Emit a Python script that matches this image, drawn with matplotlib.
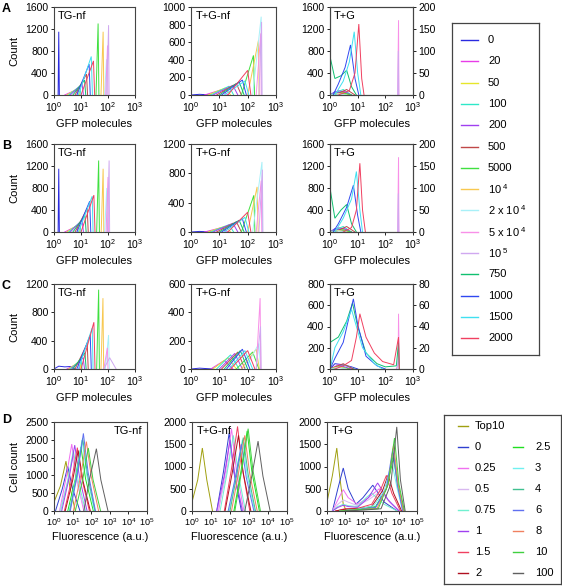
import matplotlib
matplotlib.use("Agg")
import matplotlib.pyplot as plt
from matplotlib.lines import Line2D

plt.rcParams['font.family'] = ['Liberation Sans', 'DejaVu Sans']
plt.rcParams['mathtext.fontset'] = 'custom'
plt.rcParams['mathtext.rm'] = 'Liberation Sans'
plt.rcParams['mathtext.it'] = 'Liberation Sans:italic'
plt.rcParams['mathtext.bf'] = 'Liberation Sans:bold'

# ---------------- series (A-C) ----------------
SERIES_ABC = ['0', '20', '50', '100', '200', '500', '5000', r'10$^{\ 4}$',
              r'2 x 10$^{\ 4}$', r'5 x 10$^{\ 4}$', r'10$^{\ 5}$', '750', '1000', '1500', '2000']
COLORS_ABC = ['#2a2ae0', '#e83ce8', '#e6e62a', '#2ee8c8', '#a040f0', '#c04848', '#40e040',
              '#f8c850', '#a8f0f8', '#f890e8', '#d0a8f0', '#10c070', '#3048f0', '#40e0f0', '#f04060']

# ---------------- series (D) ----------------
SERIES_D = ['Top10', '0', '0.25', '0.5', '0.75', '1', '1.5', '2', '2.5', '3', '4', '6', '8', '10', '100']
COLORS_D = ['#a0a010', '#3040d0', '#f070f0', '#d8b8f0', '#70f0d0', '#a040f0', '#f04060', '#b01020',
            '#20e020', '#70f0f0', '#40c090', '#6070f0', '#f08060', '#40d040', '#606060']

# ---------------- Row A ----------------
A1_X = [[1.42, 1.5, 1.58], [2.5, 7, 7.8], [3, 8, 8.8], [3.5, 9, 10], [4, 11, 12.3], [6, 16, 17.5],
        [36, 43, 46], [55, 66, 70], [75, 88, 92], [82, 96, 100], [90, 105, 110],
        [5, 13.5, 15], [7, 20, 22], [8, 24, 26.5], [10, 29, 32]]
A1_Y = [[0, 1150, 0], [0, 100, 0], [0, 130, 0], [0, 160, 0], [0, 200, 0], [0, 380, 0],
        [0, 1300, 0], [0, 1150, 0], [0, 650, 0], [0, 900, 0], [0, 1270, 0],
        [0, 270, 0], [0, 560, 0], [0, 700, 0], [0, 620, 0]]

A2_X = [[1, 2, 5], [3, 12, 20], [4, 16, 25], [5, 22, 32], [6, 30, 45], [8, 40, 60],
        [60, 160, 175], [100, 240, 255], [150, 300, 312], [200, 290, 300], [250, 310, 322],
        [10, 50, 75], [12, 65, 90], [15, 80, 110], [20, 100, 130]]
A2_Y = [[0, 8, 0], [0, 60, 0], [0, 80, 0], [0, 100, 0], [0, 110, 0], [0, 130, 0],
        [0, 450, 0], [0, 620, 0], [0, 890, 0], [0, 700, 0], [0, 830, 0],
        [0, 150, 0], [0, 170, 0], [0, 160, 0], [0, 280, 0]]

A3_X = [[1, 1.5, 3, 5], [1, 2, 4, 6], [1, 2.5, 5], [1, 3, 6], [1, 3, 6], [1.5, 4, 8],
        [1, 3, 6], [1, 2, 4], [1, 2, 4], [280, 300, 310], [280, 295, 305],
        [1, 1, 1.5, 2.5, 4, 6, 9], [1.3, 2, 3.5, 5.5, 8, 11], [1.5, 3, 5, 7.5, 10, 13],
        [2, 5, 8, 11, 14, 17]]
A3_Y = [[0, 60, 30, 0], [0, 80, 40, 0], [0, 50, 0], [0, 100, 0], [0, 70, 0], [0, 100, 0],
        [0, 40, 0], [0, 30, 0], [0, 20, 0], [0, 1360, 0], [0, 800, 0],
        [0, 700, 300, 350, 450, 150, 0], [0, 200, 500, 910, 300, 0], [0, 250, 600, 1150, 400, 0],
        [0, 80, 400, 1290, 300, 0]]

# ---------------- Row B ----------------
B1_X = [[1.42, 1.5, 1.58], [2.5, 7, 7.8], [3, 8, 8.8], [3.5, 9, 10], [4, 11, 12.3], [6, 17, 18.5],
        [38, 45, 48], [56, 66, 70], [75, 90, 94], [85, 100, 104], [95, 110, 115],
        [5, 14, 15.5], [7, 21, 23], [8, 26, 28], [10, 30, 33]]
B1_Y = [[0, 1150, 0], [0, 110, 0], [0, 140, 0], [0, 170, 0], [0, 220, 0], [0, 430, 0],
        [0, 1300, 0], [0, 1150, 0], [0, 800, 0], [0, 1000, 0], [0, 1300, 0],
        [0, 300, 0], [0, 560, 0], [0, 650, 0], [0, 670, 0]]

B2_X = [[1, 2, 5], [3, 12, 20], [4, 16, 25], [5, 22, 32], [6, 30, 45], [8, 40, 60],
        [60, 165, 180], [100, 215, 235], [150, 320, 335], [200, 300, 315], [250, 330, 345],
        [10, 50, 75], [12, 65, 90], [15, 80, 110], [20, 100, 130]]
B2_Y = [[0, 8, 0], [0, 60, 0], [0, 80, 0], [0, 100, 0], [0, 120, 0], [0, 140, 0],
        [0, 500, 0], [0, 615, 0], [0, 955, 0], [0, 700, 0], [0, 850, 0],
        [0, 160, 0], [0, 180, 0], [0, 200, 0], [0, 270, 0]]

B3_X = [[1, 1.5, 3, 5], [1, 2, 4, 6], [1, 2.5, 5], [1, 3, 6], [1, 3, 6], [1.5, 4, 8],
        [1, 3, 6], [1, 2, 4], [1, 2, 4], [280, 300, 310], [280, 295, 305],
        [1, 1, 1.5, 2.5, 4, 6, 9], [1.3, 2, 4, 7, 10, 13], [1.5, 3, 6, 9, 12, 15],
        [3, 6, 9, 12, 15, 19]]
B3_Y = [[0, 60, 30, 0], [0, 80, 40, 0], [0, 50, 0], [0, 100, 0], [0, 70, 0], [0, 100, 0],
        [0, 40, 0], [0, 30, 0], [0, 20, 0], [0, 1360, 0], [0, 700, 0],
        [0, 800, 250, 400, 500, 150, 0], [0, 150, 450, 850, 300, 0], [0, 250, 600, 1100, 400, 0],
        [0, 80, 400, 1250, 400, 0]]

# ---------------- Row C ----------------
C1_X = [[1, 1.5, 2.5, 4, 6], [3, 8, 9], [3.5, 9, 10], [4, 10, 11], [4.5, 12, 13.5], [6, 17, 18.5],
        [38, 45, 48], [55, 65, 69], [80, 105, 112], [70, 95, 100], [70, 115, 200],
        [5, 14, 15.5], [7, 22, 24], [8, 26, 28], [10, 30, 33]]
C1_Y = [[0, 40, 30, 35, 0], [0, 80, 0], [0, 110, 0], [0, 130, 0], [0, 160, 0], [0, 360, 0],
        [0, 1120, 0], [0, 1000, 0], [0, 480, 0], [0, 300, 0], [0, 160, 0],
        [0, 230, 0], [0, 480, 0], [0, 580, 0], [0, 660, 0]]

C2_X = [[1, 2, 6], [5, 15, 30], [6, 20, 40], [8, 25, 50], [10, 35, 65], [12, 45, 80],
        [40, 150, 250], [60, 200, 260], [80, 250, 285], [200, 275, 290], [200, 285, 300],
        [15, 55, 100], [18, 65, 120], [22, 80, 150], [25, 100, 180]]
C2_Y = [[0, 6, 0], [0, 60, 0], [0, 80, 0], [0, 100, 0], [0, 110, 0], [0, 120, 0],
        [0, 120, 0], [0, 140, 0], [0, 180, 0], [0, 500, 0], [0, 300, 0],
        [0, 130, 0], [0, 140, 0], [0, 130, 0], [0, 130, 0]]

C3_X = [[1, 1.5, 3, 6, 10], [1, 2, 4, 8], [1, 2, 5], [1, 3, 8], [1, 2.5, 6], [1, 3, 7],
        [1, 2, 5], [1, 2, 4], [1, 2, 4], [250, 290, 300, 320], [260, 300, 320],
        [1, 1, 2, 4, 6.5, 10, 20, 50, 100, 250, 300, 320],
        [1, 1.5, 3, 5, 7, 10, 20, 50, 100],
        [1, 1.5, 3, 6, 9, 15, 40, 80],
        [1.5, 3, 6, 9, 12, 20, 40, 80, 200, 300, 320]]
C3_Y = [[0, 50, 40, 20, 0], [0, 40, 30, 0], [0, 30, 0], [0, 40, 0], [0, 30, 0], [0, 50, 0],
        [0, 20, 0], [0, 20, 0], [0, 15, 0], [0, 50, 520, 0], [0, 100, 0],
        [0, 250, 300, 450, 620, 400, 150, 50, 20, 30, 250, 0],
        [0, 100, 250, 500, 660, 420, 120, 30, 0],
        [0, 200, 350, 560, 400, 200, 50, 0],
        [0, 30, 80, 300, 520, 300, 150, 70, 40, 300, 0]]

# ---------------- Row D ----------------
D1_X = [[1, 2.2, 4.4, 7, 14], [1.2, 2.8, 5.5, 10, 25], [2, 4.5, 9, 16, 40], [2, 5, 10, 18, 45],
        [2.3, 5.5, 11, 20, 50], [2.6, 6.5, 13, 24, 60], [3.6, 9, 18, 32, 80], [4, 10, 20, 36, 90],
        [5.5, 14, 28, 50, 130], [6.5, 16, 32, 58, 150], [7, 17, 35, 63, 160], [7.5, 19, 38, 68, 170],
        [11, 27, 55, 100, 250], [14, 35, 70, 125, 320], [40, 80, 190, 330, 800]]
D1_Y = [[250, 700, 1400, 700, 0], [0, 625, 1250, 625, 0], [0, 940, 1880, 940, 0], [0, 750, 1500, 750, 0],
        [0, 850, 1700, 850, 0], [0, 925, 1850, 925, 0], [0, 890, 1780, 890, 0], [0, 850, 1700, 850, 0],
        [0, 900, 1800, 900, 0], [0, 1000, 2000, 1000, 0], [0, 1025, 2050, 1025, 0], [0, 1090, 2180, 1090, 0],
        [0, 975, 1950, 975, 0], [0, 885, 1770, 885, 0], [0, 875, 1750, 875, 0]]

D2_X = [[1, 2, 3.5, 6, 12], [20, 45, 90, 160, 400], [25, 60, 120, 215, 540], [22, 55, 110, 200, 500],
        [30, 70, 150, 270, 650], [20, 50, 100, 180, 450], [50, 120, 250, 450, 1100], [55, 130, 280, 500, 1250],
        [160, 380, 800, 1400, 3500], [90, 210, 450, 800, 2000], [100, 230, 500, 900, 2200], [80, 190, 400, 720, 1800],
        [120, 280, 600, 1080, 2700], [180, 420, 900, 1600, 4000], [600, 1400, 3000, 5400, 13000]]
D2_Y = [[200, 700, 1415, 700, 0], [0, 875, 1750, 875, 0], [0, 925, 1850, 925, 0], [0, 700, 1400, 700, 0],
        [0, 850, 1700, 850, 0], [0, 800, 1600, 800, 0], [0, 950, 1900, 950, 0], [0, 850, 1700, 850, 0],
        [0, 900, 1800, 900, 0], [0, 800, 1600, 800, 0], [0, 825, 1650, 825, 0], [0, 750, 1500, 750, 0],
        [0, 850, 1700, 850, 0], [0, 925, 1850, 925, 0], [0, 785, 1570, 785, 0]]

D3_X = [[1, 2, 3.5, 5, 8, 12],
        [2, 4, 8, 15, 40, 100, 350, 1500, 8000],
        [2, 4, 8, 15, 50, 200, 800, 3000, 10000],
        [2, 4, 8, 15, 50, 200, 1000, 4000, 12000],
        [2, 4, 8, 15, 50, 150, 300, 1500, 8000],
        [2, 4, 8, 15, 50, 200, 650, 2500, 10000],
        [3, 10, 50, 300, 1000, 2000, 4000, 12000],
        [3, 10, 50, 300, 1200, 2500, 5000, 14000],
        [5, 50, 500, 2000, 5000, 9000, 18000],
        [5, 50, 400, 1500, 4000, 8000, 16000],
        [5, 50, 500, 2000, 5000, 9000, 18000],
        [5, 50, 500, 2000, 4500, 8000, 16000],
        [5, 50, 600, 2500, 5000, 9000, 18000],
        [5, 50, 700, 2500, 5600, 10000, 20000],
        [10, 100, 1000, 3500, 7500, 12000, 22000]]
D3_Y = [[200, 800, 1415, 800, 150, 0],
        [0, 500, 966, 500, 150, 300, 580, 200, 0],
        [0, 250, 480, 300, 150, 300, 500, 200, 0],
        [0, 150, 250, 200, 120, 250, 450, 150, 0],
        [0, 100, 150, 120, 100, 300, 400, 150, 0],
        [0, 80, 130, 100, 80, 300, 630, 250, 0],
        [0, 50, 60, 150, 500, 800, 400, 0],
        [0, 40, 50, 100, 450, 810, 400, 0],
        [0, 40, 100, 500, 1200, 500, 0],
        [0, 40, 120, 450, 1100, 500, 0],
        [0, 30, 80, 500, 1300, 600, 0],
        [0, 30, 80, 500, 1400, 600, 0],
        [0, 30, 60, 600, 1500, 600, 0],
        [0, 30, 50, 600, 1640, 600, 0],
        [0, 20, 50, 600, 1890, 700, 0]]

# ---------------- figure ----------------
W, H = 562, 587
fig = plt.figure(figsize=(W / 100, H / 100), dpi=100)
FRAME = '#444444'
TICK_FS = 7.5


def add_ax(x0, y0, x1, y1):
    return fig.add_axes([x0 / W, 1 - y1 / H, (x1 - x0) / W, (y1 - y0) / H])


def style(ax, xmax, yticks, xfs=TICK_FS):
    ax.set_xscale('log')
    ax.set_xlim(1, xmax)
    ax.set_ylim(yticks[0], yticks[-1])
    ax.set_yticks(yticks)
    ax.xaxis.set_minor_locator(matplotlib.ticker.NullLocator())
    for s in ax.spines.values():
        s.set_color(FRAME)
        s.set_linewidth(0.8)
    ax.tick_params(direction='out', length=2.5, width=0.6, colors='black', labelsize=TICK_FS, pad=1.5)
    ax.tick_params(axis='x', labelsize=xfs)


def draw(ax, xs, ys, colors):
    for x, y, c in zip(xs, ys, colors):
        ax.plot(x, y, color=c, lw=0.7, solid_joinstyle='miter')


COLS = [(54, 135), (191, 276), (330, 413)]
ROWS = [(7, 95), (144, 232), (284, 369)]
ROW_DATA = [
    [(A1_X, A1_Y, [0, 400, 800, 1200, 1600]), (A2_X, A2_Y, [0, 200, 400, 600, 800, 1000]),
     (A3_X, A3_Y, [0, 400, 800, 1200, 1600])],
    [(B1_X, B1_Y, [0, 400, 800, 1200, 1600]), (B2_X, B2_Y, [0, 400, 800, 1200]),
     (B3_X, B3_Y, [0, 400, 800, 1200, 1600])],
    [(C1_X, C1_Y, [0, 400, 800, 1200]), (C2_X, C2_Y, [0, 200, 400, 600]),
     (C3_X, C3_Y, [0, 200, 400, 600, 800])],
]
RIGHT_TICKS = [[0, 50, 100, 150, 200], [0, 50, 100, 150, 200], [0, 20, 40, 60, 80]]
TITLES = ['TG-nf', 'T+G-nf', 'T+G']
LETTERS = ['A', 'B', 'C']

for r, (y0, y1) in enumerate(ROWS):
    for c, (x0, x1) in enumerate(COLS):
        ax = add_ax(x0, y0, x1, y1)
        xs, ys, yt = ROW_DATA[r][c]
        draw(ax, xs, ys, COLORS_ABC)
        style(ax, 1000, yt)
        ax.set_xticks([1, 10, 100, 1000])
        ax.set_xlabel('GFP molecules', fontsize=8, labelpad=3)
        ax.text(0.05, 0.95, TITLES[c], transform=ax.transAxes, ha='left', va='top', fontsize=8)
        if c == 0:
            ax.set_ylabel('Count', fontsize=8, labelpad=4)
        if c == 2:
            ax2 = ax.twinx()
            rt = RIGHT_TICKS[r]
            ax2.set_ylim(rt[0], rt[-1])
            ax2.set_yticks(rt)
            for s in ax2.spines.values():
                s.set_color(FRAME)
                s.set_linewidth(0.8)
            ax2.tick_params(direction='out', length=2.5, width=0.6, labelsize=TICK_FS, pad=1.5)
    fig.text(2 / W, 1 - (y0 - 4) / H, LETTERS[r], fontsize=9, fontweight='bold', va='top', ha='left')

# Row D
D_COLS = [(54, 147), (192, 287), (327, 417)]
D_ROW = (422, 511)
D_DATA = [(D1_X, D1_Y, [0, 500, 1000, 1500, 2000, 2500]),
          (D2_X, D2_Y, [0, 500, 1000, 1500, 2000]),
          (D3_X, D3_Y, [0, 500, 1000, 1500, 2000])]
for c, (x0, x1) in enumerate(D_COLS):
    ax = add_ax(x0, D_ROW[0], x1, D_ROW[1])
    xs, ys, yt = D_DATA[c]
    draw(ax, xs, ys, COLORS_D)
    style(ax, 1e5, yt, xfs=6.5)
    ax.set_xticks([1, 10, 100, 1e3, 1e4, 1e5])
    ax.set_xlabel('Fluorescence (a.u.)', fontsize=8, labelpad=3)
    if c == 0:
        ax.text(0.95, 0.95, TITLES[c], transform=ax.transAxes, ha='right', va='top', fontsize=8)
        ax.set_ylabel('Cell count', fontsize=8, labelpad=4)
    else:
        ax.text(0.05, 0.95, TITLES[c], transform=ax.transAxes, ha='left', va='top', fontsize=8)
fig.text(2 / W, 1 - 414 / H, 'D', fontsize=9, fontweight='bold', va='top', ha='left')

# Legend A-C
lax = add_ax(452, 23, 539, 355)
lax.set_xlim(452, 539)
lax.set_ylim(355, 23)
lax.set_xticks([])
lax.set_yticks([])
for s in lax.spines.values():
    s.set_color(FRAME)
    s.set_linewidth(0.9)
for i, (lab, col) in enumerate(zip(SERIES_ABC, COLORS_ABC)):
    yy = 40 + i * 21.3
    lax.add_line(Line2D([461, 478], [yy, yy], color=col, lw=1.0))
    lax.text(488, yy, lab, fontsize=8, va='center', ha='left')

# Legend D
dax = add_ax(444, 415, 561, 584)
dax.set_xlim(444, 561)
dax.set_ylim(584, 415)
dax.set_xticks([])
dax.set_yticks([])
for s in dax.spines.values():
    s.set_color(FRAME)
    s.set_linewidth(0.9)
for i, (lab, col) in enumerate(zip(SERIES_D, COLORS_D)):
    if i < 8:
        yy = 426 + i * 21
        hx, tx = 458, 475
    else:
        yy = 426 + (i - 7) * 21
        hx, tx = 513, 535
    dax.add_line(Line2D([hx, hx + 10], [yy, yy], color=col, lw=1.0))
    dax.text(tx, yy, lab, fontsize=8, va='center', ha='left')

fig.savefig('out.png', dpi=100)
